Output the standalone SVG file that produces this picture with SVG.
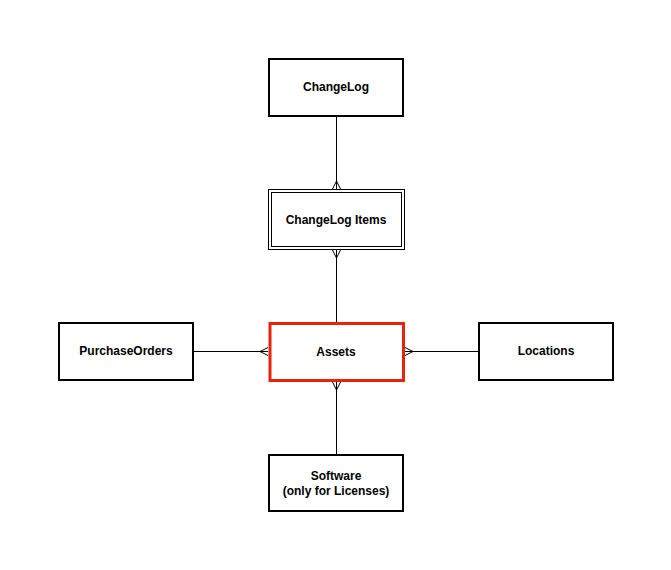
<svg xmlns="http://www.w3.org/2000/svg" width="671" height="570" viewBox="0 0 671 570">
<style>
.box{fill:#fff;stroke:#000;stroke-width:2}
.thin{fill:none;stroke:#000;stroke-width:1}
.red{fill:#fff;stroke:#e8230d;stroke-width:3}
.lbl{font-family:"Liberation Sans",Arial,sans-serif;font-size:12px;font-weight:bold;fill:#000;text-anchor:middle}
.ln{fill:none;stroke:#000;stroke-width:1}
</style>
<rect width="671" height="570" fill="#fff"/>
<g id="connectors">
<path class="ln" d="M336.5 117V189 M332.5 189L336.5 181L340.5 189 M336.5 181V189"/>
<path class="ln" d="M336.5 250V322 M332.5 250L336.5 258L340.5 250"/>
<path class="ln" d="M336.5 382V455 M332.5 382L336.5 390L340.5 382"/>
<path class="ln" d="M193 351.5H268 M268 347.5L260 351.5L268 355.5"/>
<path class="ln" d="M405 351.5H479 M405 347.5L413 351.5L405 355.5"/>
</g>
<g id="changelog">
<rect class="box" x="269" y="59" width="134" height="57"/>
<text class="lbl" x="336" y="91">ChangeLog</text>
</g>
<g id="changelog-items">
<rect class="thin" x="268.5" y="189.5" width="136" height="60"/>
<rect class="thin" x="271.5" y="192.5" width="130" height="54"/>
<text class="lbl" x="336" y="224">ChangeLog Items</text>
</g>
<g id="purchaseorders">
<rect class="box" x="59" y="323" width="134" height="57"/>
<text class="lbl" x="126" y="355">PurchaseOrders</text>
</g>
<g id="assets">
<rect class="red" x="270" y="323.5" width="133.5" height="57"/>
<text class="lbl" x="336" y="356">Assets</text>
</g>
<g id="locations">
<rect class="box" x="479" y="323" width="134" height="57"/>
<text class="lbl" x="546" y="355">Locations</text>
</g>
<g id="software">
<rect class="box" x="269" y="455" width="134" height="56"/>
<text class="lbl" x="336" y="480">Software</text>
<text class="lbl" x="336" y="495">(only for Licenses)</text>
</g>
</svg>
